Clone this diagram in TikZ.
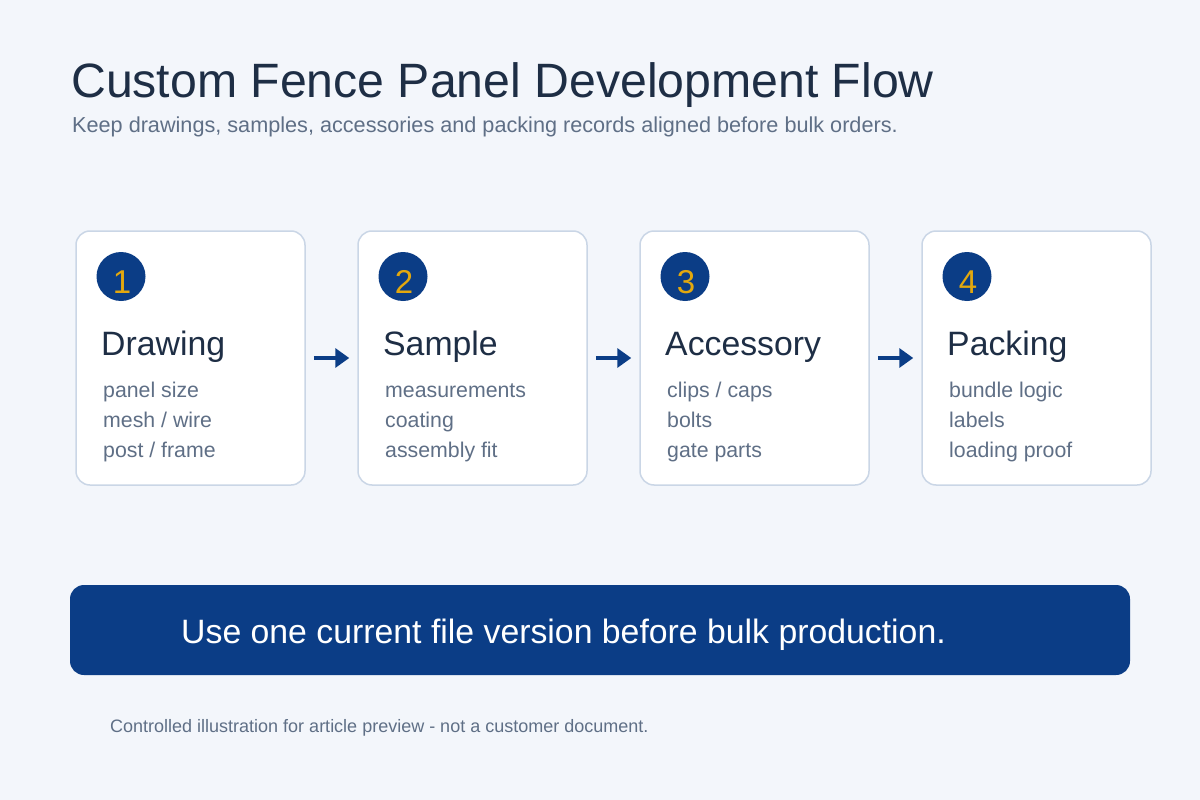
\documentclass[tikz,border=0pt]{standalone}
\usepackage{fontspec}
\setmainfont{Liberation Sans}
\usetikzlibrary{arrows.meta}
\definecolor{bg}{HTML}{F3F6FB}
\definecolor{navy}{HTML}{0B3D86}
\definecolor{titlec}{HTML}{1E2E45}
\definecolor{subc}{HTML}{5F6F86}
\definecolor{bordc}{HTML}{CAD6E6}
\definecolor{gold}{HTML}{E3A80E}
\newcommand{\fs}[1]{\fontsize{#1}{#1}\selectfont}
\tikzset{
  card/.style={draw=bordc, line width=1.5pt, fill=white, rounded corners=14pt,
    minimum width=229pt, minimum height=254pt, inner sep=0pt},
  badge/.style={circle, fill=navy, minimum size=49pt, inner sep=0pt},
  badgenum/.style={anchor=base, inner sep=0pt, text=gold, font=\fs{33}},
  cardtitle/.style={anchor=base west, inner sep=0pt, text=titlec, font=\fs{33.8}},
  item/.style={anchor=base west, inner sep=0pt, text=subc, font=\fs{21.3}},
  flowarrow/.style={draw=navy, line width=3.4pt, shorten <=8pt, shorten >=8pt,
    -{Triangle[length=14pt,width=19pt]}},
}
\begin{document}
\begin{tikzpicture}[x=1pt,y=-1pt]
\useasboundingbox (0,0) rectangle (1200,800);
\fill[bg] (0,0) rectangle (1200,800);
\node[anchor=base west, inner sep=0pt, text=titlec, font=\fs{48.2}] (title) at (71,98) {Custom Fence Panel Development Flow};
\node[anchor=base west, inner sep=0pt, text=subc, font=\fs{21.65}] (sub) at (72,132) {Keep drawings, samples, accessories and packing records aligned before bulk orders.};
\foreach \i/\x/\t/\a/\b/\c in {1/76/Drawing/{panel size}/{mesh / wire}/{post / frame},
  2/358/Sample/{measurements}/{coating}/{assembly fit},
  3/640/Accessory/{clips / caps}/{bolts}/{gate parts},
  4/922/Packing/{bundle logic}/{labels}/{loading proof}}{
  \node[card] (c\i) at (\x+114.5,358) {};
  \node[badge] (n\i) at (\x+45,276.5) {};
  \node[badgenum] (k\i) at (\x+46,293) {\i};
  \node[cardtitle] (t\i) at (\x+25,355) {\t};
  \node[item] (a\i) at (\x+27,397) {\a};
  \node[item] (b\i) at (\x+27,427) {\b};
  \node[item] (d\i) at (\x+27,457) {\c};
}
\draw[flowarrow] (c1) -- (c2);
\draw[flowarrow] (c2) -- (c3);
\draw[flowarrow] (c3) -- (c4);
\node[fill=navy, rounded corners=14pt, minimum width=1060pt, minimum height=90pt, inner sep=0pt] (banner) at (600,630) {};
\node[anchor=base west, inner sep=0pt, text=white, font=\fs{33.8}] (bt) at (181,643) {Use one current file version before bulk production.};
\node[anchor=base west, inner sep=0pt, text=subc, font=\fs{18}] (foot) at (110,732) {Controlled illustration for article preview - not a customer document.};
\end{tikzpicture}
\end{document}
